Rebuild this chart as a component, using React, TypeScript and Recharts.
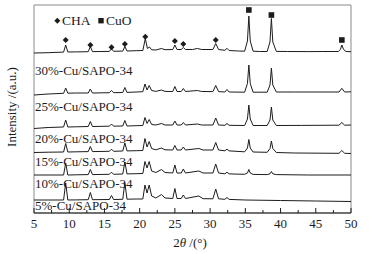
import React from 'react';
import { ComposedChart, Line, Scatter, XAxis, YAxis, ReferenceArea } from 'recharts';

// sample names (top to bottom)
const sampleNames = ['30%-Cu/SAPO-34', '25%-Cu/SAPO-34', '20%-Cu/SAPO-34', '15%-Cu/SAPO-34', '10%-Cu/SAPO-34', '5%-Cu/SAPO-34'];
// vertical stacking offsets of each pattern (a.u.)
const traceOffsets = [160, 120, 86, 61, 38, 13];

// [2theta, relative intensity]
const trace30: number[][] = [[5,0],[7,0.3],[9.2,0.9],[9.5,8],[9.8,1],[11,1.1],[12.7,1.3],[13,6.5],[13.3,1.4],[14.5,1.5],[15.7,1.6],[16,4.2],[16.3,1.7],[17.6,1.9],[17.9,6.5],[18.2,2],[19.5,2.3],[20.45,2.5],[20.8,14.5],[21.1,4.5],[21.4,6],[21.7,3.2],[22.3,3],[23.1,4.5],[23.6,3.3],[24.7,3.5],[25,8],[25.3,3.5],[25.9,3.5],[26.2,5.5],[26.5,3.5],[27.5,3.5],[28.2,4.5],[28.8,3.5],[30.4,3.5],[30.8,9.5],[31.2,3.5],[32.1,2.7],[32.4,4.7],[32.7,2.5],[34,2],[34.9,1.8],[35.3,12],[35.5,37],[35.7,12],[36.1,1.8],[37,1.5],[38.1,1.5],[38.5,11],[38.7,34.5],[38.9,11],[39.4,1.6],[41,1.5],[44,1.4],[46,1.5],[48.2,1.5],[48.5,3.5],[48.7,8],[48.95,3.5],[49.3,1.5],[50,1.3]];
const trace25: number[][] = [[5,-2],[7,-1],[9.2,-0.3],[9.5,5],[9.8,-0.2],[11,0],[12.7,0],[13,4],[13.3,0],[15.7,0.3],[16,2.5],[16.3,0.3],[17.6,0.5],[17.9,5.5],[18.2,0.6],[19.5,1],[20.45,1.3],[20.75,9],[21.05,3],[21.35,7.5],[21.7,2.5],[22.3,1.6],[23.1,3],[23.6,1.6],[24.7,1.5],[25,6.5],[25.3,1.5],[25.9,1.5],[26.2,4.5],[26.5,1.5],[28.2,2.5],[28.8,1.5],[30.4,1.4],[30.8,7.5],[31.2,1.4],[32.1,1],[32.4,3.5],[32.7,1],[34.9,0.8],[35.3,9.5],[35.5,28],[35.7,9.5],[36.1,0.8],[38.1,0.8],[38.5,8],[38.7,25],[38.9,8],[39.4,1],[42,1],[46,1],[48.3,1],[48.7,4.7],[49.1,1],[50,1.2]];
const trace20: number[][] = [[5,-1.5],[7,-0.5],[9.2,0],[9.5,7],[9.8,0],[11,0.2],[12.7,0.5],[13,5.5],[13.3,0.5],[15.7,0.8],[16,3],[16.3,0.8],[17.6,1],[17.9,6.5],[18.2,1],[19.5,1.3],[20.45,1.5],[20.75,9.5],[21.05,3.5],[21.35,7.5],[21.7,2.5],[22.3,2],[23.1,3.5],[23.6,2],[24.7,2],[25,6],[25.3,2],[25.9,2],[26.2,4.5],[26.5,2],[28.2,3],[28.8,2],[30.4,2],[30.8,9],[31.2,2],[32.1,1.7],[32.4,3.5],[32.7,1.7],[34.9,1.5],[35.3,8],[35.5,22],[35.7,8],[36.1,1.5],[38.1,1.5],[38.5,7],[38.7,20],[38.9,7],[39.4,1.5],[43,1.6],[48.3,1.8],[48.7,4.5],[49.1,1.8],[50,2]];
const trace15: number[][] = [[5,-0.5],[7,-0.2],[9.2,0],[9.5,8.5],[9.8,0],[11,0.2],[12.7,0.4],[13,5.5],[13.3,0.4],[15.7,0.7],[16,2.8],[16.3,0.7],[17.6,1],[17.9,9],[18.2,1.1],[19.5,1.3],[20.45,1.5],[20.75,13.5],[21.05,5],[21.35,10.5],[21.7,3.5],[22.3,2.2],[23.1,4],[23.6,2.2],[24.7,2],[25,6.5],[25.3,2],[25.9,2],[26.2,5],[26.5,2],[28.4,3.5],[29,2],[30.4,2],[30.8,9.5],[31.2,2],[32.1,1.2],[32.4,2.8],[32.7,1.1],[34.9,0.2],[35.3,4],[35.5,12.5],[35.7,4],[36.1,0],[38.1,-0.3],[38.5,3.5],[38.7,11],[38.9,3.5],[39.4,-0.5],[42,-1],[48.3,-1.3],[48.7,1.5],[49.1,-1.3],[50,-1.5]];
const trace10: number[][] = [[5,0],[7,0],[9.2,0],[9.5,12],[9.8,0],[11,0.2],[12.7,0.4],[13,5.5],[13.3,0.4],[15.7,0.7],[16,2.8],[16.3,0.7],[17.6,1],[17.9,13],[18.2,1.1],[19.5,1.3],[20.45,1.5],[20.75,13.5],[21.05,7],[21.35,13.5],[21.7,4],[22.3,2.5],[23.1,5.5],[23.6,2.5],[24.7,2],[25,10],[25.3,2],[25.9,2],[26.2,6],[26.5,2],[28.4,4],[29,2],[30.4,2],[30.8,11],[31.2,2],[32.1,1.2],[32.4,2.8],[32.7,1.1],[34.9,0.7],[35.3,2],[35.5,5.5],[35.7,2],[36.1,0.6],[38.1,0.4],[38.5,1.2],[38.7,3.5],[38.9,1.2],[39.4,0.4],[44,0],[50,0]];
const trace5: number[][] = [[5,0],[7,0],[9.2,0],[9.5,17],[9.8,0],[11,0.1],[12.7,0.3],[13,7.5],[13.3,0.3],[15.7,0.5],[16,4.5],[16.3,0.5],[17.6,0.7],[17.9,17.5],[18.2,0.8],[19.5,1],[20.45,1],[20.75,15],[21.05,7],[21.35,15],[21.7,4],[22.3,2],[23.1,5.5],[23.6,2],[24.7,1.5],[25,11.5],[25.3,1.5],[25.9,1.5],[26.2,5],[26.5,1.5],[28.4,4],[29,1.3],[30.4,1.2],[30.8,11],[31.2,1.2],[32.1,0.7],[32.4,2.5],[32.7,0.6],[35,0],[40,-0.5],[45,-1],[50,-1.5]];

const traces = [trace30, trace25, trace20, trace15, trace10, trace5];

// phase markers above the top pattern
const chaMarkerX = [9.5, 13, 16, 17.9, 20.8, 25, 26.2, 30.8];
const chaMarkerY = [173, 168, 165.7, 169, 176.3, 172, 169, 173];
const cuoMarkerX = [35.5, 38.7, 48.7];
const cuoMarkerY = [203, 198, 173];

const xTicks = [5, 7.5, 10, 12.5, 15, 17.5, 20, 22.5, 25, 27.5, 30, 32.5, 35, 37.5, 40, 42.5, 45, 47.5, 50];
const xMajor = [5, 10, 15, 20, 25, 30, 35, 40, 45, 50];

const FONT = "'Liberation Serif', 'Times New Roman', serif";
const INK = '#1c1c1c';

const seriesData = traces.map((t, i) => t.map(([x, y]) => ({ x, y: y + traceOffsets[i] })));
const chaData = chaMarkerX.map((x, i) => ({ x, y: chaMarkerY[i] }));
const cuoData = cuoMarkerX.map((x, i) => ({ x, y: cuoMarkerY[i] }));

const Diamond = (p: any) => {
  const { cx, cy } = p;
  const s = 3;
  return <path d={`M${cx},${cy - s}L${cx + s},${cy}L${cx},${cy + s}L${cx - s},${cy}Z`} fill={INK} />;
};
const Square = (p: any) => {
  const { cx, cy } = p;
  const s = 2.8;
  return <rect x={cx - s} y={cy - s} width={2 * s} height={2 * s} fill={INK} />;
};

const Tick = (p: any) => {
  const { x, y, payload } = p;
  const v = payload.value;
  const major = xMajor.includes(v);
  return (
    <g>
      <line x1={x} x2={x} y1={y} y2={y - (major ? 5 : 3)} stroke={INK} strokeWidth={1} />
      {major && (
        <text x={x} y={y + 15} textAnchor="middle" fontFamily={FONT} fontSize={13} fill={INK}>
          {v}
        </text>
      )}
    </g>
  );
};

const labelTops = [63.5, 100, 131.5, 155, 177, 198.5];

export default function App() {
  return (
    <div style={{ position: 'absolute', left: 0, top: 0, width: 373, height: 254, background: '#fff' }}>
      <ComposedChart width={373} height={254} margin={{ top: 5, right: 22, bottom: 0, left: 34 }}>
        <XAxis
          type="number"
          dataKey="x"
          domain={[5, 50]}
          ticks={xTicks}
          interval={0}
          tick={<Tick />}
          tickLine={false}
          tickSize={0}
          tickMargin={0}
          height={41}
          axisLine={{ stroke: INK }}
          allowDataOverflow
        />
        <YAxis type="number" dataKey="y" domain={[0, 208]} width={0} tick={false} tickLine={false} axisLine={{ stroke: '#555' }} allowDataOverflow />
        <ReferenceArea x1={5} x2={50} y1={0} y2={208} fill="none" stroke="#8a8a8a" strokeWidth={1} ifOverflow="visible" />
        {seriesData.map((d, i) => (
          <Line key={i} data={d} dataKey="y" type="linear" stroke={INK} strokeWidth={1} dot={false} isAnimationActive={false} />
        ))}
        <Scatter data={chaData} dataKey="y" shape={<Diamond />} isAnimationActive={false} />
        <Scatter data={cuoData} dataKey="y" shape={<Square />} isAnimationActive={false} />
      </ComposedChart>

      {sampleNames.map((n, i) => (
        <div key={n} style={{ position: 'absolute', left: 35, top: labelTops[i], fontFamily: FONT, fontSize: 13, lineHeight: '13px', color: INK, whiteSpace: 'nowrap' }}>
          {n}
        </div>
      ))}

      {/* legend */}
      <svg style={{ position: 'absolute', left: 0, top: 0 }} width={373} height={40}>
        <path d="M57.3,17.7L60.3,20.7L57.3,23.7L54.3,20.7Z" fill={INK} />
        <rect x={98.3} y={18} width={5.4} height={5.4} fill={INK} />
      </svg>
      <div style={{ position: 'absolute', left: 62, top: 14, fontFamily: FONT, fontSize: 13.5, lineHeight: '13px', color: INK, whiteSpace: 'nowrap' }}>CHA</div>
      <div style={{ position: 'absolute', left: 106, top: 14, fontFamily: FONT, fontSize: 13.5, lineHeight: '13px', color: INK, whiteSpace: 'nowrap' }}>CuO</div>

      {/* axis titles */}
      <div style={{ position: 'absolute', left: 11, top: 107, width: 0, height: 0 }}>
        <div style={{ position: 'absolute', transform: 'translate(-50%, -50%) rotate(-90deg)', fontFamily: FONT, fontSize: 13, lineHeight: '13px', color: INK, whiteSpace: 'nowrap' }}>
          Intensity /(a.u.)
        </div>
      </div>
      <div style={{ position: 'absolute', left: 190, top: 242, width: 0, height: 0 }}>
        <div style={{ position: 'absolute', transform: 'translate(-50%, -50%)', fontFamily: FONT, fontSize: 13, lineHeight: '13px', color: INK, whiteSpace: 'nowrap' }}>
          2<i>θ</i> /(°)
        </div>
      </div>
    </div>
  );
}
